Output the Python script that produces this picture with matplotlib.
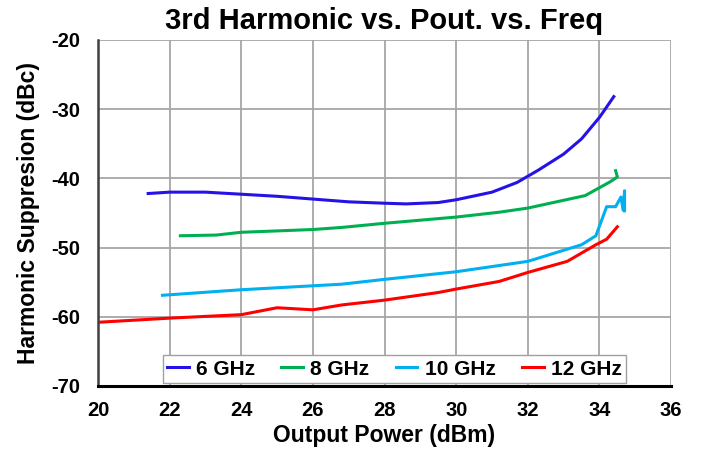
import matplotlib.pyplot as plt

plt.rcParams['font.family'] = ['Liberation Sans', 'DejaVu Sans']
plt.rcParams['axes.unicode_minus'] = False

# output power (dBm) vs 3rd harmonic suppression (dBc) per frequency
pout_6 = [21.4, 22.0, 23.0, 24.0, 25.0, 26.0, 27.0, 28.0, 28.6, 29.5, 30.0, 31.0, 31.7, 32.3, 33.0, 33.5, 34.0, 34.4]
h3_6 = [-42.2, -42.0, -42.0, -42.3, -42.6, -43.0, -43.4, -43.6, -43.7, -43.5, -43.1, -42.0, -40.6, -38.8, -36.5, -34.3, -31.2, -28.2]

pout_8 = [22.3, 23.3, 24.0, 26.0, 26.8, 28.0, 30.0, 31.2, 32.0, 32.8, 33.6, 34.3, 34.5, 34.45]
h3_8 = [-48.3, -48.2, -47.8, -47.4, -47.1, -46.5, -45.6, -44.9, -44.3, -43.4, -42.5, -40.5, -39.8, -38.9]

pout_10 = [21.8, 24.0, 26.8, 28.0, 30.0, 31.2, 32.0, 33.5, 33.9, 34.2, 34.45, 34.6, 34.66, 34.7, 34.7]
h3_10 = [-56.9, -56.1, -55.3, -54.6, -53.5, -52.6, -52.0, -49.6, -48.3, -44.1, -44.1, -42.7, -44.6, -41.8, -44.7]

pout_12 = [20.0, 22.0, 24.0, 25.0, 26.0, 26.8, 28.0, 29.5, 30.0, 31.2, 32.0, 33.1, 33.9, 34.2, 34.5]
h3_12 = [-60.8, -60.2, -59.7, -58.7, -59.0, -58.3, -57.6, -56.5, -56.0, -54.9, -53.6, -52.0, -49.6, -48.8, -47.0]

fig = plt.figure(figsize=(7.02, 4.53), dpi=100)
ax = fig.add_axes([0.1396, 0.148, 0.8164, 0.764])

ax.plot(pout_6, h3_6, color='#2412E6', lw=2.2, label='6 GHz')
ax.plot(pout_8, h3_8, color='#00B050', lw=2.2, label='8 GHz')
ax.plot(pout_10, h3_10, color='#00B0F0', lw=2.2, label='10 GHz')
ax.plot(pout_12, h3_12, color='#FF0000', lw=2.2, label='12 GHz')

ax.set_xlim(20, 36)
ax.set_ylim(-70, -20)
ax.set_xticks(range(20, 37, 2))
ax.set_yticks(range(-70, -19, 10))
ax.grid(True, color='#A6A6A6', lw=1.3)
ax.set_axisbelow(True)

for s in ['top', 'right']:
    ax.spines[s].set_visible(False)
ax.spines['left'].set_color('#404040')
ax.spines['left'].set_linewidth(1.8)
ax.spines['bottom'].set_color('black')
ax.spines['bottom'].set_linewidth(2.2)
ax.tick_params(axis='x', length=0, pad=11)
ax.tick_params(axis='y', length=0, pad=13)
for lbl in ax.get_xticklabels() + ax.get_yticklabels():
    lbl.set_fontweight('bold')
    lbl.set_fontsize(14.5)

ax.set_xlabel('Output Power (dBm)', fontsize=16.5, fontweight='bold', labelpad=3)
ax.set_ylabel('Harmonic Suppresion (dBc)', fontsize=16.5, fontweight='bold', labelpad=8)
ax.set_title('3rd Harmonic vs. Pout. vs. Freq', fontsize=21, fontweight='bold', pad=8)

leg = ax.legend(loc='lower center', bbox_to_anchor=(0.517, 0.0), ncol=4, fancybox=False,
                prop={'weight': 'bold', 'size': 15}, handlelength=1.05, handletextpad=0.35,
                columnspacing=1.25, borderpad=0.2, borderaxespad=0.15, framealpha=1)
leg.get_frame().set_edgecolor('#A0A0A0')
leg.get_frame().set_linewidth(1.0)

fig.savefig('out.png', dpi=100)
